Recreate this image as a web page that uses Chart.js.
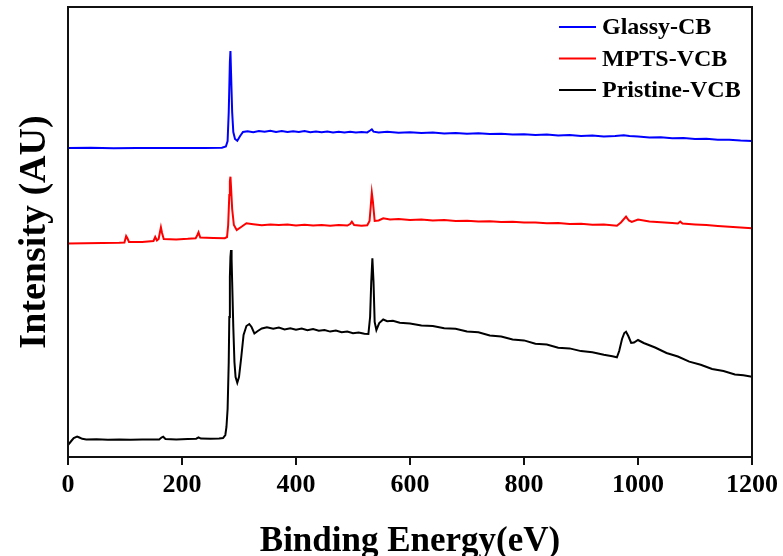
<!DOCTYPE html>
<html lang="en">
<head>
    <meta charset="UTF-8">
    <title>XPS survey spectra</title>
    <script src="https://cdn.jsdelivr.net/npm/chart.js"></script>
    <style>
        body {
            margin: 0;
            padding: 0;
            background: #fff;
        }
        canvas {
            display: block;
        }
    </style>
</head>
<body>
    <canvas id="xps" width="783" height="556"></canvas>

    <script>
        // values (binding energy in eV, intensity in arbitrary units)
        const seriesNames = ['Glassy-CB', 'MPTS-VCB', 'Pristine-VCB'];
        const xTicks = [0, 200, 400, 600, 800, 1000, 1200];

        const glassyE = [0, 40, 80, 120, 160, 200, 240, 270, 277, 280, 282, 284, 285, 286, 288, 290, 293, 297, 302, 307,
            315, 325, 335, 345, 355, 365, 375, 385, 395, 405, 415, 425, 435, 445, 455, 465, 475, 485, 495, 505, 515, 525,
            530, 533, 536, 545, 560, 580, 600, 620, 640, 660, 680, 700, 720, 740, 760, 780, 800, 820, 840, 860, 880, 900,
            920, 940, 960, 975, 985, 1000, 1020, 1040, 1060, 1080, 1100, 1120, 1140, 1160, 1180, 1200];
        const glassyI = [309, 309.2, 308.8, 309, 309.1, 308.9, 309, 309.3, 310.5, 316, 345, 395, 406, 385, 345, 325, 318, 316.3, 321, 325,
            325.8, 324.8, 326, 325.2, 326.3, 325, 325.9, 324.9, 325.8, 325.1, 326, 324.7, 325.5, 324.8, 325.6, 324.6, 325.3, 324.5, 325.2, 324.4, 325, 324.6,
            326.5, 327.7, 325.3, 324.5, 325.2, 324.3, 324.8, 323.9, 324.4, 323.6, 324.1, 323.3, 323.8, 322.9, 323.3, 322.4, 322.8, 322, 322.4, 321.6, 321.9, 321.1,
            321.4, 320.6, 320.9, 321.8, 321, 320.5, 319.4, 319.7, 318.8, 318.9, 318.1, 318.2, 317.3, 317.3, 316.4, 316];

        const mptsE = [0, 30, 60, 90, 99, 102, 104, 107, 130, 150, 153, 156, 159, 161, 163, 165, 168, 190, 210, 224, 227, 229, 232,
            255, 275, 279, 281, 283, 284, 285, 286, 288, 291, 296, 305, 313, 325, 340, 355, 370, 385, 400, 415, 430, 445, 460,
            475, 490, 495, 498, 502, 515, 525, 529, 531, 533, 535, 538, 545, 553, 565, 580, 600, 620, 640, 660, 680, 700, 720,
            740, 760, 780, 800, 820, 840, 860, 880, 900, 920, 940, 963, 970, 979, 984, 989, 1000, 1020, 1040, 1060, 1070, 1074,
            1078, 1100, 1120, 1140, 1160, 1180, 1200];
        const mptsI = [213.5, 213.8, 213.9, 214.2, 214.5, 221, 219, 215, 215, 216, 220, 216.5, 218, 224, 229.7, 224, 218, 217.6, 218.2, 218.8, 222, 224.7, 219.5,
            219, 218.8, 220, 232, 262, 276, 280.3, 270, 248, 232, 227, 230.5, 233.7, 232.8, 231.8, 232.6, 231.9, 232.5, 231.6, 232.3, 231.4, 232, 231.3,
            231.9, 231.4, 233, 235.3, 232, 231.3, 231.8, 236, 250, 264.3, 255, 236, 236.5, 238.7, 237.6, 238, 237, 237.4, 236.6, 236.9, 236, 236.3, 235.4,
            235.8, 235, 235.2, 234.4, 234.6, 233.7, 233.9, 233, 233.2, 232.3, 232.4, 231.3, 234.5, 240.3, 236.5, 235, 237.5, 235.5, 234.8, 234, 233.6, 235.5,
            233.4, 232.6, 231.9, 231, 230.3, 229.4, 228.7];

        const pristineE = [0, 5, 10, 16, 20, 25, 32, 50, 70, 90, 110, 130, 150, 160, 164, 167, 171, 190, 210, 225, 229, 233, 250,
            265, 272, 276, 278, 280, 282, 283, 284, 285, 286, 287, 288, 290, 292, 294, 297, 300, 304, 308, 313, 318, 322, 327,
            333, 340, 349, 360, 370, 380, 390, 400, 410, 420, 430, 440, 450, 460, 470, 480, 490, 500, 510, 520, 527, 530, 532,
            534, 536, 538, 541, 546, 553, 560, 570, 582, 600, 620, 640, 660, 680, 700, 720, 740, 760, 780, 800, 820, 840, 860,
            880, 900, 920, 940, 955, 963, 967, 972, 976, 979, 983, 988, 993, 1000, 1010, 1030, 1050, 1070, 1090, 1110, 1130,
            1150, 1170, 1185, 1200];
        const pristineI = [12, 15.5, 19, 20.5, 19.5, 18.2, 17.6, 17.8, 17.3, 17.6, 17.2, 17.5, 17.4, 17.6, 19.5, 20.3, 18, 17.6, 17.9, 18.3, 19.6, 18.4, 18.2,
            18.6, 19, 22, 30, 48, 95, 140, 180, 200, 207, 198, 175, 130, 95, 80, 74.3, 80, 100, 122, 131, 133, 130, 123.5,
            126, 128.5, 129.7, 128.3, 129.5, 127.6, 128.8, 127.2, 128.4, 126.8, 127.9, 126.3, 127, 125.4, 126.4, 124.7, 125.5, 123.8, 124.5, 123.2, 123, 140, 175,
            198.7, 175, 135, 127, 134, 137.5, 135.8, 136.2, 134.3, 133.6, 131.4, 131, 128.7, 128.2, 125.6, 124.8, 121.6, 120.4, 117.5, 116.6, 113.2, 112.4, 109.3,
            108.6, 105.9, 104.8, 102.2, 100.8, 99.7, 106, 118, 124, 125.3, 121, 114, 114.5, 117, 114, 109.5, 104, 100.5, 95.4, 92.3, 88,
            86, 82.5, 81.8, 80.3];

        const seriesColors = ['#0000ff', '#ff0000', '#000000'];
        const FONT = '"Liberation Serif", "Times New Roman", serif';

        function toPoints(xs, ys) {
            return xs.map((x, i) => ({ x: x, y: ys[i] }));
        }

        // box round the plot and the legend in the top right corner
        const frameAndLegend = {
            id: 'frameAndLegend',
            afterDraw(chart) {
                const { ctx, chartArea } = chart;
                ctx.save();
                ctx.strokeStyle = '#111';
                ctx.lineWidth = 2;
                ctx.strokeRect(chartArea.left, chartArea.top, chartArea.right - chartArea.left, chartArea.bottom - chartArea.top);

                ctx.font = 'bold 24px ' + FONT;
                ctx.textBaseline = 'middle';
                ctx.textAlign = 'left';
                chart.data.datasets.forEach((ds, i) => {
                    const y = 27 + i * 31.5;
                    ctx.strokeStyle = ds.borderColor;
                    ctx.lineWidth = 2;
                    ctx.beginPath();
                    ctx.moveTo(559, y);
                    ctx.lineTo(596, y);
                    ctx.stroke();
                    ctx.fillStyle = '#000';
                    ctx.fillText(ds.label, 602, y + 1);
                });
                ctx.restore();
            }
        };

        const chart = new Chart(document.getElementById('xps'), {
            type: 'line',
            data: {
                datasets: [
                    { label: seriesNames[0], data: toPoints(glassyE, glassyI), borderColor: seriesColors[0] },
                    { label: seriesNames[1], data: toPoints(mptsE, mptsI), borderColor: seriesColors[1] },
                    { label: seriesNames[2], data: toPoints(pristineE, pristineI), borderColor: seriesColors[2] }
                ]
            },
            options: {
                responsive: false,
                animation: false,
                datasets: {
                    line: { borderWidth: 2, pointRadius: 0, tension: 0, fill: false }
                },
                layout: { padding: { top: 7, right: 31, left: 0, bottom: 0 } },
                plugins: {
                    legend: { display: false },
                    tooltip: { enabled: false }
                },
                scales: {
                    x: {
                        type: 'linear',
                        min: 0,
                        max: 1200,
                        afterBuildTicks: (axis) => { axis.ticks = xTicks.map(v => ({ value: v })); },
                        afterFit: (axis) => { axis.height = 99; },
                        ticks: {
                            color: '#000',
                            padding: 5,
                            maxRotation: 0,
                            callback: (v) => String(v),
                            font: { family: FONT, size: 26, weight: 'bold' }
                        },
                        grid: { drawOnChartArea: false, drawTicks: true, tickLength: 8, color: '#111', lineWidth: 2 },
                        border: { display: true, color: '#111', width: 2 },
                        title: {
                            display: true,
                            text: 'Binding Energy(eV)',
                            color: '#000',
                            padding: { top: 0, bottom: 0 },
                            font: { family: FONT, size: 35, weight: 'bold', lineHeight: 0.8 }
                        }
                    },
                    y: {
                        min: 0,
                        max: 450,
                        afterFit: (axis) => { axis.width = 68; },
                        ticks: { display: false },
                        grid: { display: false },
                        border: { display: true, color: '#111', width: 2 },
                        title: {
                            display: true,
                            text: 'Intensity (AU)',
                            color: '#000',
                            padding: { top: 12, bottom: 0 },
                            font: { family: FONT, size: 38, weight: 'bold' }
                        }
                    }
                }
            },
            plugins: [frameAndLegend]
        });
    </script>
</body>
</html>
